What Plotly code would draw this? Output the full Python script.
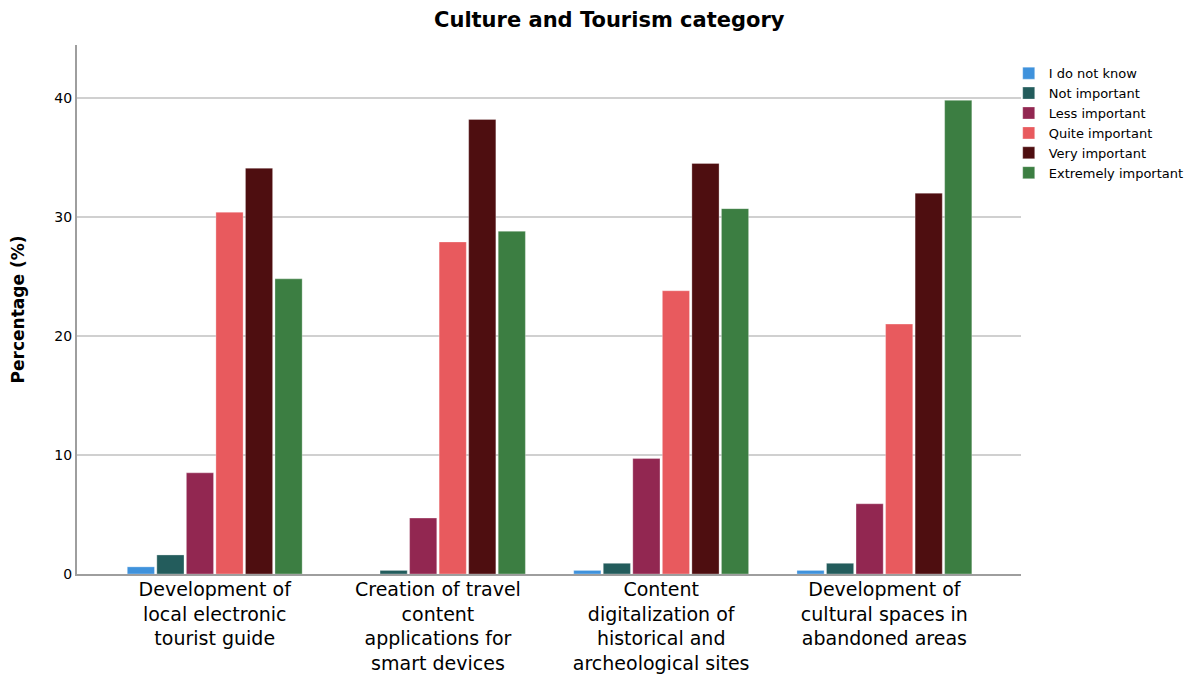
import plotly.graph_objects as go

categories = [
    "Development of<br>local electronic<br>tourist guide",
    "Creation of travel<br>content<br>applications for<br>smart devices",
    "Content<br>digitalization of<br>historical and<br>archeological sites",
    "Development of<br>cultural spaces in<br>abandoned areas",
]
series_names = ["I do not know", "Not important", "Less important",
                "Quite important", "Very important", "Extremely important"]
idk = [0.6, 0.0, 0.3, 0.3]
not_imp = [1.6, 0.3, 0.9, 0.9]
less_imp = [8.5, 4.7, 9.7, 5.9]
quite_imp = [30.4, 27.9, 23.8, 21.0]
very_imp = [34.1, 38.2, 34.5, 32.0]
extreme_imp = [24.8, 28.8, 30.7, 39.8]
colors = ["#3f92dc", "#235c5c", "#922751", "#e85a5e", "#4e0e10", "#3c7e42"]
y_ticks = [0, 10, 20, 30, 40]

values = [idk, not_imp, less_imp, quite_imp, very_imp, extreme_imp]

fig = go.Figure()
for name, vals, col in zip(series_names, values, colors):
    fig.add_trace(go.Bar(x=categories, y=vals, name=name,
                         marker=dict(color=col, line=dict(color="rgba(255,255,255,0.6)", width=0.5))))

font = "DejaVu Sans, Verdana, sans-serif"
fig.update_layout(
    width=1193, height=666,
    paper_bgcolor="white", plot_bgcolor="white",
    barmode="group", bargap=0.206, bargroupgap=0.08,
    margin=dict(l=69, r=177, t=37, b=100),
    title=dict(text="<b>Culture and Tourism category</b>", x=0.504, xanchor="center",
               y=0.982, yanchor="middle", font=dict(family=font, size=21, color="black")),
    legend=dict(x=0.987, y=0.975, xanchor="left", yanchor="top",
                font=dict(family=font, size=13, color="black"),
                itemwidth=30, tracegroupgap=0, bgcolor="rgba(0,0,0,0)"),
    font=dict(family=font, color="black"),
)
fig.update_xaxes(showline=True, linecolor="#9e9e9e", linewidth=2, ticks="", automargin=False,
                 range=[-0.617, 3.612], ticklabelstandoff=-3,
                 tickfont=dict(family=font, size=19, color="black"), showgrid=False)
fig.update_yaxes(range=[0, 44.45], tickvals=y_ticks, showline=True, linecolor="#9e9e9e",
                 linewidth=2, ticks="", showgrid=True, gridcolor="#d0d0d0", gridwidth=1.5,
                 automargin=False,
                 tickfont=dict(family=font, size=14, color="black"), zeroline=False,
                 title=dict(text="<b>Percentage (%)</b>", font=dict(family=font, size=17, color="black"),
                            standoff=26))

fig.write_html("out.html")
